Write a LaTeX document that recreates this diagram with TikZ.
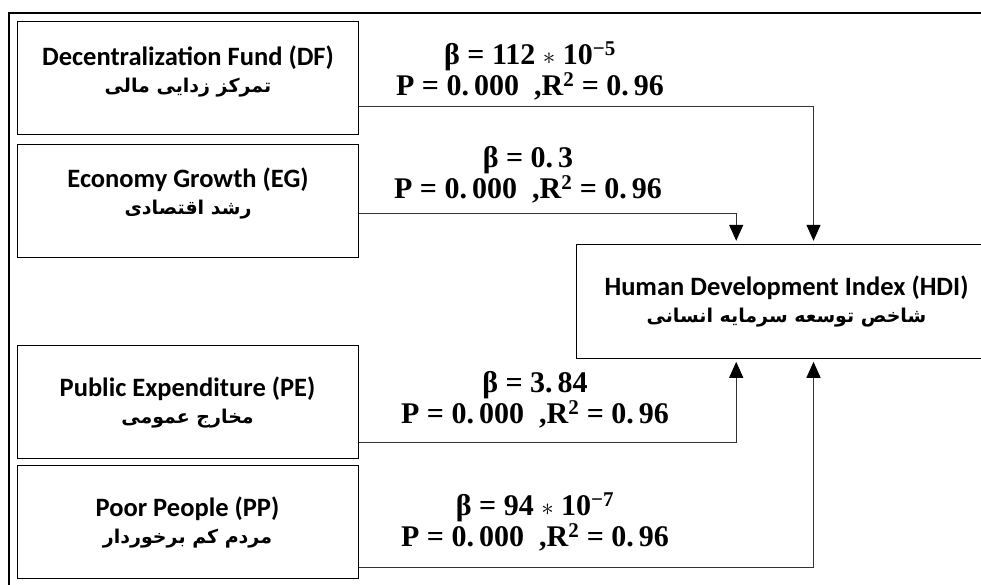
\documentclass[tikz,border=0pt]{standalone}
\usepackage{fontspec}
\setmainfont{Carlito}
\newfontfamily\statfont{Liberation Serif}
\newfontfamily\farsifont[Script=Arabic]{DejaVu Sans}
\TeXXeTstate=1
\usetikzlibrary{arrows.meta, positioning, calc}

\newcommand\farsitext[1]{{\fontsize{19}{31}\farsifont\bfseries\beginR #1\endR}}

\begin{document}
\begin{tikzpicture}[x=1pt, y=1pt, >={Triangle[length=16pt, width=14pt, black]}, node distance=8.6pt]
	\tikzstyle{factor} = [draw, line width=1pt, minimum width=341pt, minimum height=113pt, inner sep=0pt, align=center, font=\fontsize{26.5}{31}\selectfont\bfseries]
	\tikzstyle{raised} = [text depth=18pt]
	\tikzstyle{stat} = [align=center, font=\fontsize{30}{31}\statfont\bfseries]
	\tikzstyle{flow} = [->, line width=1.2pt, draw=black!80, shorten >=3pt]

	\useasboundingbox (0,0) rectangle (981,585);
	\draw[line width=2pt] (9,0) |- (981,572);

	\path
		node[factor, raised] (DF) at (188,507) {Decentralization Fund (DF)\\[-4pt] \farsitext{تمرکز زدایی مالی}}
		node[factor, raised, below=of DF] (EG) {Economy Growth (EG)\\[-4pt] \farsitext{رشد اقتصادی}}
		node[factor] (PE) at (187.5,183) {Public Expenditure (PE)\\[-4pt] \farsitext{مخارج عمومی}}
		node[factor, below=6pt of PE] (PP) {Poor People (PP)\\[-4pt] \farsitext{مردم کم برخوردار}}
		node[factor, minimum width=421pt, minimum height=114pt] (HDI) at (786.5,283.7) {Human Development Index (HDI)\\[-4pt] \farsitext{شاخص توسعه سرمایه انسانی}}
	;

	% coefficients
	\node[stat] (DFstat) at (530,514) {β = 112 $\ast$ 10\textsuperscript{−5}\\ P = 0.\,000 \ ,R\textsuperscript{2} = 0.\,96};
	\node[stat] (EGstat) at (528,410) {β = 0.\,3\\ P = 0.\,000 \ ,R\textsuperscript{2} = 0.\,96};
	\node[stat] (PEstat) at (535,185) {β = 3.\,84\\ P = 0.\,000 \ ,R\textsuperscript{2} = 0.\,96};
	\node[stat] (PPstat) at (535,63) {β = 94 $\ast$ 10\textsuperscript{−7}\\ P = 0.\,000 \ ,R\textsuperscript{2} = 0.\,96};

	\draw[flow] ([yshift=-28.7pt]DF.east) -| ([xshift=238pt]HDI.north west);
	\draw[flow] ([yshift=-13pt]EG.east) -| ([xshift=160.7pt]HDI.north west);
	\draw[flow] ([yshift=-40.7pt]PE.east) -| ([xshift=160.7pt]HDI.south west);
	\draw[flow] ([yshift=-45.4pt]PP.east) -| ([xshift=238pt]HDI.south west);
\end{tikzpicture}
\end{document}
